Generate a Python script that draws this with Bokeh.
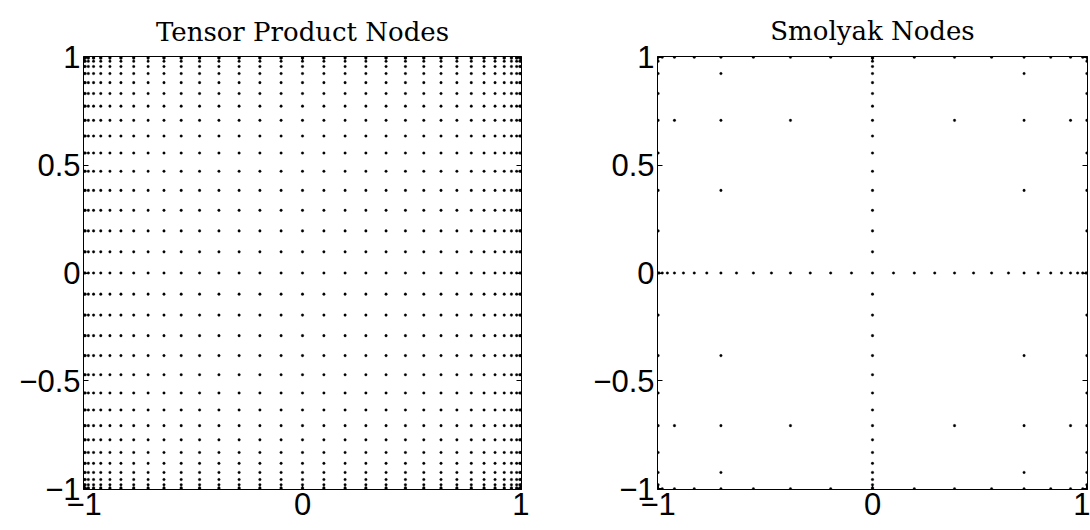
from bokeh.plotting import figure
from bokeh.layouts import row
from bokeh.models import FixedTicker, LinearAxis, Range1d, ColumnDataSource
from bokeh.embed import file_html
from bokeh.resources import INLINE

# 1-D Chebyshev extrema nodes (33 points) and their nesting level
nodes = [-1.0, -0.9952, -0.9808, -0.9569, -0.9239, -0.8819, -0.8315, -0.7730,
         -0.7071, -0.6344, -0.5556, -0.4714, -0.3827, -0.2903, -0.1951, -0.0980,
         0.0,
         0.0980, 0.1951, 0.2903, 0.3827, 0.4714, 0.5556, 0.6344, 0.7071,
         0.7730, 0.8315, 0.8819, 0.9239, 0.9569, 0.9808, 0.9952, 1.0]
levels = [2, 6, 5, 6, 4, 6, 5, 6, 3, 6, 5, 6, 4, 6, 5, 6,
          1,
          6, 5, 6, 4, 6, 5, 6, 3, 6, 5, 6, 4, 6, 5, 6, 2]
max_level_sum = 7

x_ticks = [-1, 0, 1]
y_ticks = [-1, -0.5, 0, 0.5, 1]
x_tick_labels = {-1: "\u22121", 0: "0", 1: "1"}
y_tick_labels = {-1: "\u22121", -0.5: "\u22120.5", 0: "0", 0.5: "0.5", 1: "1"}

titles = ["Tensor Product Nodes", "Smolyak Nodes"]

# tensor grid
tx, ty = [], []
for a in nodes:
    for b in nodes:
        tx.append(a)
        ty.append(b)

# smolyak sparse grid
sx, sy = [], []
for a, la in zip(nodes, levels):
    for b, lb in zip(nodes, levels):
        if la + lb <= max_level_sum:
            sx.append(a)
            sy.append(b)


def make_panel(title, xs, ys, bl, fw, br, bt, fh, bb, standoff, lh):
    p = figure(width=bl + fw + br, height=bt + fh + bb,
               frame_width=fw, frame_height=fh,
               min_border_left=bl, min_border_right=br,
               min_border_top=bt, min_border_bottom=bb,
               x_range=Range1d(-1.003, 1.003), y_range=Range1d(-1.003, 1.003),
               output_backend="svg", toolbar_location=None,
               x_axis_type=None, y_axis_type=None)
    p.title.text = title
    p.title.align = "center"
    p.title.text_font = "DejaVu Serif"
    p.title.text_font_size = "26px"
    p.title.text_font_style = "normal"
    p.title.text_color = "black"
    p.title.text_line_height = lh
    p.title.standoff = standoff
    p.outline_line_color = "black"
    p.outline_line_width = 1
    p.outline_line_alpha = 1
    p.background_fill_color = "white"
    p.border_fill_color = "white"

    for side in ["left", "right"]:
        ax = LinearAxis(ticker=FixedTicker(ticks=y_ticks))
        ax.major_tick_in = 5
        ax.major_tick_out = 0
        ax.minor_tick_in = 0
        ax.minor_tick_out = 0
        ax.axis_line_color = "black"
        ax.major_tick_line_color = "black"
        if side == "left":
            ax.major_label_overrides = y_tick_labels
            ax.major_label_text_font = "Liberation Sans"
            ax.major_label_text_font_size = "31px"
            ax.major_label_text_color = "black"
            ax.major_label_standoff = 3
        else:
            ax.major_label_text_font_size = "0px"
            ax.major_label_text_alpha = 0
        p.add_layout(ax, side)

    ax = LinearAxis(ticker=FixedTicker(ticks=x_ticks))
    ax.major_tick_in = 5
    ax.major_tick_out = 0
    ax.minor_tick_in = 0
    ax.minor_tick_out = 0
    ax.axis_line_color = "black"
    ax.major_tick_line_color = "black"
    ax.major_label_overrides = x_tick_labels
    ax.major_label_text_font = "Liberation Sans"
    ax.major_label_text_font_size = "31px"
    ax.major_label_text_color = "black"
    ax.major_label_standoff = 3
    p.add_layout(ax, "below")

    # short inward tick marks on the top edge, at the x tick positions
    tick_len = 5 * 2.006 / fh
    p.segment(x0=x_ticks, y0=[1.003] * len(x_ticks), x1=x_ticks,
              y1=[1.003 - tick_len] * len(x_ticks), line_color="black", line_width=1)

    src = ColumnDataSource(data=dict(x=xs, y=ys))
    p.scatter("x", "y", source=src, marker="circle", size=2.6,
              fill_color="black", line_color="black", line_width=0.3)
    p.xgrid.visible = False
    p.ygrid.visible = False
    return p


p1 = make_panel(titles[0], tx, ty, 83, 438, 24, 54, 433, 43, 20, 0.5)
p2 = make_panel(titles[1], sx, sy, 112, 430, 3, 56, 433, 41, 22, 0.5)

layout = row(p1, p2, spacing=0)
open("out.html", "w").write(file_html(layout, INLINE))
